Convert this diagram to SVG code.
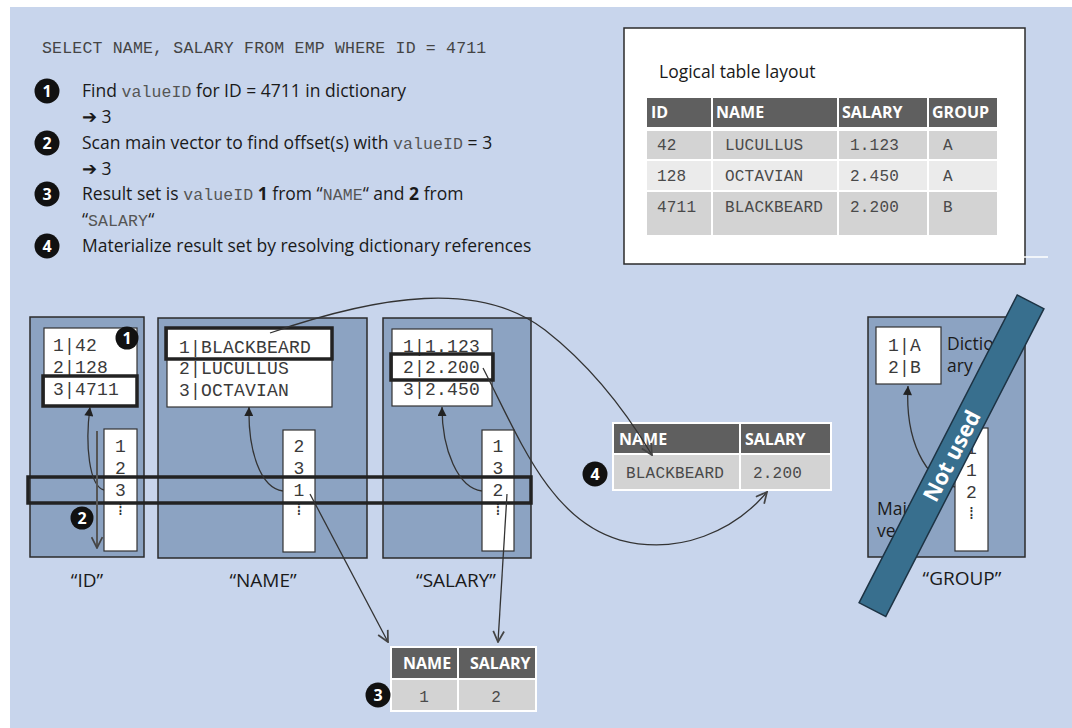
<svg xmlns="http://www.w3.org/2000/svg" width="1072" height="728" viewBox="0 0 1072 728">
<defs>
<style>
.bg{fill:#c8d5ec}
.col{fill:#8ca3c2;stroke:#2b2b2b;stroke-width:1.5}
.wb{fill:#fff;stroke:#333;stroke-width:1.2}
.hl{fill:none;stroke:#222;stroke-width:3.5}
.mono{font-family:"Liberation Mono","DejaVu Sans Mono",monospace;fill:#3a3a3a}
.dm{font-size:18px;letter-spacing:0.2px}
.tm{font-size:16px;letter-spacing:0.2px;fill:#4a4a4a}
.im{font-size:16.5px;letter-spacing:0.1px;fill:#555}
.vm{font-size:18px;text-anchor:middle}
.sans{font-family:"Open Sans","Liberation Sans",sans-serif;fill:#1a1a1a;font-size:17.5px}
.b{font-weight:bold}
.hd{font-family:"Open Sans","Liberation Sans",sans-serif;font-weight:bold;fill:#fff;font-size:16px}
.lbl{font-family:"Open Sans","Liberation Sans",sans-serif;fill:#1a1a1a;font-size:19px;text-anchor:middle}
.nc{fill:#111}
.nt{font-family:"Open Sans","Liberation Sans",sans-serif;font-weight:bold;fill:#fff;font-size:16px;text-anchor:middle}
.con{fill:none;stroke:#333;stroke-width:1.3}
.dots{font-family:"DejaVu Sans",sans-serif;font-size:17px;fill:#333;text-anchor:middle}
.hcell{fill:#5f5f5f}
.c1{fill:#d3d3d3}
.c2{fill:#ebebeb}
</style>
<marker id="tri" viewBox="0 0 10 10" refX="10" refY="5" markerWidth="10" markerHeight="9" markerUnits="userSpaceOnUse" orient="auto"><path d="M0,0 L10,5 L0,10 z" fill="#222"/></marker>
<marker id="chev" viewBox="0 0 12 12" refX="11" refY="6" markerWidth="13" markerHeight="13" markerUnits="userSpaceOnUse" orient="auto"><path d="M1,1 L11,6 L1,11" fill="none" stroke="#444" stroke-width="1.6"/></marker>
</defs>

<rect x="0" y="0" width="1072" height="728" fill="#fff"/>
<rect class="bg" x="10" y="7" width="1062" height="721"/>

<g id="query">
<text class="mono" x="42" y="53" style="font-size:16.5px;letter-spacing:0.2px;fill:#444">SELECT NAME, SALARY FROM EMP WHERE ID = 4711</text>
</g>

<g id="steps">
<circle class="nc" cx="47" cy="91" r="12.5"/><text class="nt" x="47" y="97">1</text>
<text class="sans" x="82" y="97">Find <tspan class="mono im">valueID</tspan> for ID = 4711 in dictionary</text>
<text class="sans" x="82" y="123">➔ 3</text>
<circle class="nc" cx="47" cy="143" r="12.5"/><text class="nt" x="47" y="149">2</text>
<text class="sans" x="82" y="149">Scan main vector to find offset(s) with <tspan class="mono im">valueID</tspan> = 3</text>
<text class="sans" x="82" y="175">➔ 3</text>
<circle class="nc" cx="47" cy="194" r="12.5"/><text class="nt" x="47" y="200">3</text>
<text class="sans" x="82" y="200">Result set is  <tspan class="mono im">valueID</tspan> <tspan class="b">1</tspan> from “<tspan class="mono im">NAME</tspan>“ and <tspan class="b">2</tspan> from</text>
<text class="sans" x="82" y="226">“<tspan class="mono im">SALARY</tspan>“</text>
<circle class="nc" cx="47" cy="246" r="12.5"/><text class="nt" x="47" y="252">4</text>
<text class="sans" x="82" y="252">Materialize result set by resolving dictionary references</text>
</g>

<g id="logical-table">
<rect x="624" y="28" width="401" height="236" fill="#fff" stroke="#2b2b2b" stroke-width="1.5"/>
<line x1="1024" y1="257" x2="1048" y2="257" stroke="#fff" stroke-width="1.5"/>
<text class="sans" x="659" y="78">Logical table layout</text>
<rect class="hcell" x="647" y="98" width="64" height="29"/>
<rect class="hcell" x="713" y="98" width="124" height="29"/>
<rect class="hcell" x="839" y="98" width="88" height="29"/>
<rect class="hcell" x="929" y="98" width="68" height="29"/>
<rect class="c1" x="647" y="131" width="64" height="28"/>
<rect class="c1" x="713" y="131" width="124" height="28"/>
<rect class="c1" x="839" y="131" width="88" height="28"/>
<rect class="c1" x="929" y="131" width="68" height="28"/>
<rect class="c2" x="647" y="161" width="64" height="29"/>
<rect class="c2" x="713" y="161" width="124" height="29"/>
<rect class="c2" x="839" y="161" width="88" height="29"/>
<rect class="c2" x="929" y="161" width="68" height="29"/>
<rect class="c1" x="647" y="192" width="64" height="43"/>
<rect class="c1" x="713" y="192" width="124" height="43"/>
<rect class="c1" x="839" y="192" width="88" height="43"/>
<rect class="c1" x="929" y="192" width="68" height="43"/>
<text class="hd" x="651" y="118">ID</text>
<text class="hd" x="716" y="118">NAME</text>
<text class="hd" x="842" y="118">SALARY</text>
<text class="hd" x="932" y="118">GROUP</text>
<text class="mono tm" x="657" y="150">42</text><text class="mono tm" x="725" y="150">LUCULLUS</text><text class="mono tm" x="850" y="150">1.123</text><text class="mono tm" x="943" y="150">A</text>
<text class="mono tm" x="657" y="181">128</text><text class="mono tm" x="725" y="181">OCTAVIAN</text><text class="mono tm" x="850" y="181">2.450</text><text class="mono tm" x="943" y="181">A</text>
<text class="mono tm" x="657" y="212">4711</text><text class="mono tm" x="725" y="212">BLACKBEARD</text><text class="mono tm" x="850" y="212">2.200</text><text class="mono tm" x="943" y="212">B</text>
</g>

<g id="col-id">
<rect class="col" x="30" y="317" width="114" height="240"/>
<rect class="wb" x="44" y="328" width="93" height="78"/>
<text class="mono dm" x="53" y="351">1|42</text>
<text class="mono dm" x="53" y="373">2|128</text>
<text class="mono dm" x="53" y="395">3|4711</text>
<rect class="wb" x="104" y="429" width="33" height="122"/>
<text class="mono vm" x="120.5" y="452">1</text>
<text class="mono vm" x="120.5" y="474">2</text>
<text class="mono vm" x="120.5" y="496">3</text>
<text class="dots" x="120.5" y="515">⁞</text>
<rect class="hl" x="43" y="376" width="94" height="30"/>
<circle class="nc" cx="127" cy="338" r="11.5"/><text class="nt" x="127" y="344">1</text>
<text class="lbl" x="87" y="587">“ID”</text>
</g>

<g id="col-name">
<rect class="col" x="158" y="318" width="209" height="240"/>
<rect class="wb" x="167" y="328" width="165" height="79"/>
<text class="mono dm" x="179" y="353">1|BLACKBEARD</text>
<text class="mono dm" x="179" y="374">2|LUCULLUS</text>
<text class="mono dm" x="179" y="396">3|OCTAVIAN</text>
<rect class="hl" x="166" y="328" width="166" height="31"/>
<rect class="wb" x="283" y="430" width="32" height="122"/>
<text class="mono vm" x="299" y="452">2</text>
<text class="mono vm" x="299" y="474">3</text>
<text class="mono vm" x="299" y="496">1</text>
<text class="dots" x="299" y="515">⁞</text>
<text class="lbl" x="263" y="587">“NAME”</text>
</g>

<g id="col-salary">
<rect class="col" x="383" y="318" width="148" height="240"/>
<rect class="wb" x="392" y="329" width="100" height="77"/>
<text class="mono dm" x="403" y="352">1|1.123</text>
<text class="mono dm" x="403" y="373">2|2.200</text>
<text class="mono dm" x="403" y="395">3|2.450</text>
<rect class="hl" x="391" y="354" width="102" height="26"/>
<rect class="wb" x="482" y="430" width="32" height="121"/>
<text class="mono vm" x="498" y="452">1</text>
<text class="mono vm" x="498" y="474">3</text>
<text class="mono vm" x="498" y="496">2</text>
<text class="dots" x="498" y="515">⁞</text>
<text class="lbl" x="456" y="587">“SALARY”</text>
</g>

<g id="col-group">
<rect class="col" x="868" y="317" width="157" height="240"/>
<rect class="wb" x="876" y="327" width="65" height="57"/>
<text class="mono dm" x="888" y="351">1|A</text>
<text class="mono dm" x="888" y="373">2|B</text>
<text class="sans" x="947" y="350">Diction</text>
<text class="sans" x="947" y="372">ary</text>
<text class="sans" x="877" y="515">Main</text>
<text class="sans" x="877" y="537">vector</text>
<rect class="wb" x="955" y="428" width="33" height="123"/>
<text class="mono vm" x="971.5" y="454">1</text>
<text class="mono vm" x="971.5" y="476">1</text>
<text class="mono vm" x="971.5" y="498">2</text>
<text class="dots" x="971.5" y="519">⁞</text>
<path class="con" d="M955,487 C925,480 905,440 908,386" marker-end="url(#tri)"/>
<text class="lbl" x="962" y="585">“GROUP”</text>
</g>

<g id="scan-bar">
<rect class="hl" x="28" y="477" width="503" height="26"/>
</g>

<g id="result-4">
<rect x="612" y="422" width="220" height="69" fill="#fff"/>
<rect class="hcell" x="614" y="424" width="125" height="29"/>
<rect class="hcell" x="741" y="424" width="89" height="29"/>
<rect class="c1" x="614" y="455" width="125" height="34"/>
<rect class="c1" x="741" y="455" width="89" height="34"/>
<text class="hd" x="619" y="445">NAME</text>
<text class="hd" x="745" y="445">SALARY</text>
<text class="mono tm" x="626" y="478">BLACKBEARD</text>
<text class="mono tm" x="753" y="478">2.200</text>
<circle class="nc" cx="595" cy="474" r="12.5"/><text class="nt" x="595" y="480">4</text>
</g>

<g id="result-3">
<rect x="390" y="646" width="147" height="66" fill="#fff"/>
<rect class="hcell" x="392" y="648" width="65" height="30"/>
<rect class="hcell" x="459" y="648" width="76" height="30"/>
<rect class="c1" x="392" y="680" width="65" height="30"/>
<rect class="c1" x="459" y="680" width="76" height="30"/>
<text class="hd" x="403" y="669">NAME</text>
<text class="hd" x="470" y="669">SALARY</text>
<text class="mono vm" x="424" y="702" style="font-size:16px;fill:#4a4a4a">1</text>
<text class="mono vm" x="496" y="702" style="font-size:16px;fill:#4a4a4a">2</text>
<circle class="nc" cx="378" cy="695" r="12.5"/><text class="nt" x="378" y="701">3</text>
</g>

<g id="connectors">
<path class="con" d="M104,490 C89,486 85,445 90,407" marker-end="url(#tri)"/>
<path class="con" d="M283,491 C260,488 248,450 249,407" marker-end="url(#tri)"/>
<path class="con" d="M482,491 C458,488 442,450 442,407" marker-end="url(#tri)"/>
<line x1="97" y1="431" x2="97" y2="548" stroke="#555" stroke-width="2" marker-end="url(#chev)"/>
<circle class="nc" cx="82" cy="518" r="11.5"/><text class="nt" x="82" y="524">2</text>
<path class="con" d="M270,333 C380,295 480,280 545,330 C590,365 625,410 652,455" marker-end="url(#chev)"/>
<path class="con" d="M483,368 C520,440 550,520 620,540 C680,556 735,530 767,492" marker-end="url(#chev)"/>
<line class="con" x1="310" y1="494" x2="388" y2="642" marker-end="url(#chev)"/>
<line class="con" x1="507" y1="494" x2="498" y2="642" marker-end="url(#chev)"/>
</g>

<g id="not-used">
<g transform="translate(951.5,455.75) rotate(-62.8)">
<rect x="-173" y="-15" width="346" height="30" fill="#386f8e" stroke="#1d3344" stroke-width="1.5"/>
<text x="0" y="8" style="font-family:'Open Sans','Liberation Sans',sans-serif;font-weight:bold;font-size:22px;fill:#fff;text-anchor:middle">Not used</text>
</g>
</g>
</svg>
